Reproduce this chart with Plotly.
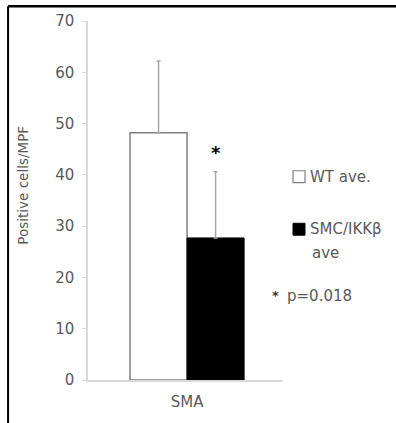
import plotly.graph_objects as go

categories = ["SMA"]
wt_values = [48.2]
wt_err = [14.0]
smc_values = [27.7]
smc_err = [12.9]
y_ticks = [0, 10, 20, 30, 40, 50, 60, 70]
legend_labels = ["WT ave.", "SMC/IKKβ", "ave"]
p_text = "p=0.018"

GRAY = "#595959"
FONT = "DejaVu Sans"

fig = go.Figure()
fig.add_trace(go.Bar(
    x=categories, y=wt_values, name=legend_labels[0],
    marker=dict(color="white", line=dict(color="#7f7f7f", width=1.5)),
    error_y=dict(type="data", array=wt_err, arrayminus=[0], color="#a6a6a6", thickness=1.5, width=2),
))
fig.add_trace(go.Bar(
    x=categories, y=smc_values, name=legend_labels[1] + " " + legend_labels[2],
    marker=dict(color="black", line=dict(color="black", width=1)),
    error_y=dict(type="data", array=smc_err, arrayminus=[0], color="#a6a6a6", thickness=1.5, width=2),
))

ann_font = dict(size=15, color=GRAY, family=FONT)

fig.update_layout(
    width=396, height=423,
    margin=dict(l=88, r=113, t=21, b=40),
    paper_bgcolor="white", plot_bgcolor="white",
    barmode="group", bargap=0.415, bargroupgap=0,
    font=dict(family=FONT, color=GRAY, size=13),
    showlegend=False,
    xaxis=dict(range=[-0.508, 0.492], showline=True, linecolor="#d9d9d9", linewidth=1.5,
               ticks="", tickfont=dict(size=15, color=GRAY), showgrid=False,
               ticklabelstandoff=7),
    yaxis=dict(range=[0, 70], tickvals=y_ticks, showline=True, linecolor="#d9d9d9",
               linewidth=1.5, ticks="outside", ticklen=4, tickcolor="#d9d9d9",
               showgrid=False, zeroline=False, tickfont=dict(size=15, color=GRAY),
               ticklabelstandoff=5),
    annotations=[
        dict(x=-0.3333, y=0.5414, xref="paper", yref="paper", text="Positive cells/MPF",
             textangle=-90, showarrow=False, xanchor="center", yanchor="middle",
             font=dict(size=13.5, color=GRAY, family=FONT)),
        dict(x=0.146, y=44.3, xref="x", yref="y", text="<b>*</b>", showarrow=False,
             font=dict(size=18, color="black", family=FONT)),
        dict(x=1.1282, y=0.5663, xref="paper", yref="paper", text=legend_labels[0],
             showarrow=False, xanchor="left", yanchor="middle", font=ann_font),
        dict(x=1.1282, y=0.4199, xref="paper", yref="paper", text=legend_labels[1],
             showarrow=False, xanchor="left", yanchor="middle", font=ann_font),
        dict(x=1.1385, y=0.3536, xref="paper", yref="paper", text=legend_labels[2],
             showarrow=False, xanchor="left", yanchor="middle", font=ann_font),
        dict(x=0.959, y=0.2348, xref="paper", yref="paper", text="<b>*</b>",
             showarrow=False, xanchor="center", yanchor="middle",
             font=dict(size=13, color="#333333", family=FONT)),
        dict(x=1.0103, y=0.2348, xref="paper", yref="paper", text=p_text,
             showarrow=False, xanchor="left", yanchor="middle", font=ann_font),
    ],
    shapes=[
        dict(type="rect", xref="paper", yref="paper", x0=1.0513, x1=1.1128, y0=0.5497, y1=0.5829,
             fillcolor="white", line=dict(color="#7f7f7f", width=1.2)),
        dict(type="rect", xref="paper", yref="paper", x0=1.0513, x1=1.1128, y0=0.4033, y1=0.4365,
             fillcolor="black", line=dict(color="black", width=1)),
        dict(type="line", xref="paper", yref="paper", x0=-0.41, x1=1.6, y0=1.0414, y1=1.0414,
             line=dict(color="black", width=2.5)),
        dict(type="line", xref="paper", yref="paper", x0=-0.41, x1=-0.41, y0=1.0414, y1=-0.12,
             line=dict(color="black", width=2)),
    ],
)

fig.write_html("out.html", config={"displayModeBar": False},
               post_script="document.body.style.margin='0px';")
